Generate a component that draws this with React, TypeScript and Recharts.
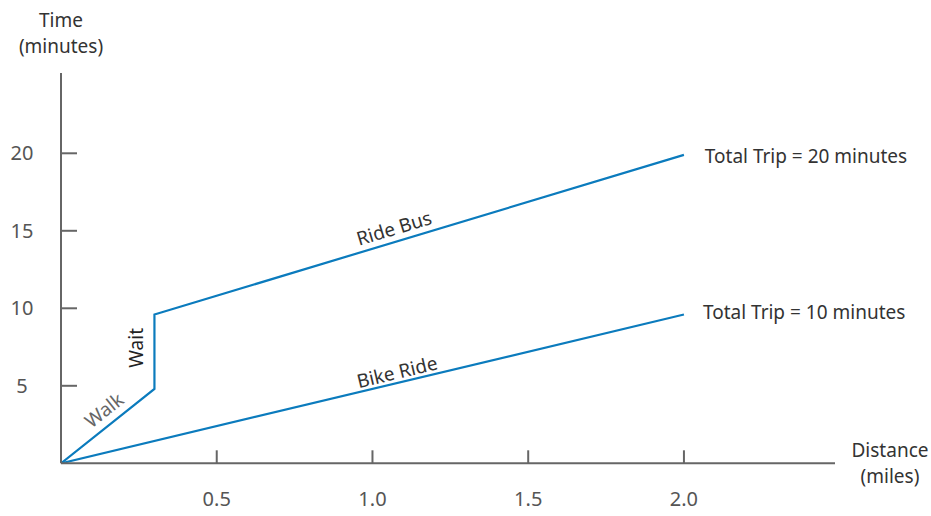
import React from 'react';
import { LineChart, Line, XAxis, YAxis, ReferenceDot } from 'recharts';

const busDistance = [0, 0.3, 0.3, 2.0];
const busTime = [0, 4.8, 9.6, 19.9];
const bikeDistance = [0, 2.0];
const bikeTime = [0, 9.6];
const xTicks = [0.5, 1.0, 1.5, 2.0];
const yTicks = [5, 10, 15, 20];
const labelTexts = ['Walk', 'Wait', 'Ride Bus', 'Bike Ride', 'Total Trip = 20 minutes', 'Total Trip = 10 minutes'];
const labelX = [0.138, 0.241, 1.069, 1.079, 2.067, 2.061];
const labelY = [3.44, 7.45, 15.18, 5.9, 19.83, 9.76];
const labelAngle = [-38.5, -90, -16.8, -13.4, 0, 0];
const labelColor = ['#666', '#222', '#333', '#333', '#333', '#333'];

const FONT = "'Noto Sans', sans-serif";
const AXIS = '#666';
const BLUE = '#0b7bbd';

const busData = busDistance.map((x, i) => ({ x, y: busTime[i] }));
const bikeData = bikeDistance.map((x, i) => ({ x, y: bikeTime[i] }));

const XTick = (p: any) => (
  <g>
    <line x1={p.x} y1={p.y} x2={p.x} y2={p.y - 13} stroke={AXIS} strokeWidth={2} />
    <text x={p.x} y={p.y + 43} textAnchor="middle" fill="#555" fontSize={20} fontFamily={FONT}>
      {Number(p.payload.value).toFixed(1)}
    </text>
  </g>
);

const YTick = (p: any) => (
  <g>
    <line x1={p.x} y1={p.y} x2={p.x + 16} y2={p.y} stroke={AXIS} strokeWidth={2} />
    <text x={p.x - 39} y={p.y + 7} textAnchor="middle" fill="#555" fontSize={20} fontFamily={FONT}>
      {p.payload.value}
    </text>
  </g>
);

const YTitle = (p: any) => {
  const vb = p.viewBox;
  const cx = vb.x + vb.width;
  return (
    <text x={cx} y={vb.y - 46} textAnchor="middle" fill="#333" fontSize={19} fontFamily={FONT}>
      <tspan x={cx} dy={0}>Time</tspan>
      <tspan x={cx} dy={26}>(minutes)</tspan>
    </text>
  );
};

const XTitle = (p: any) => {
  const vb = p.viewBox;
  const cx = vb.x + vb.width + 55;
  return (
    <text x={cx} y={vb.y - 6} textAnchor="middle" fill="#333" fontSize={19} fontFamily={FONT}>
      <tspan x={cx} dy={0}>Distance</tspan>
      <tspan x={cx} dy={26}>(miles)</tspan>
    </text>
  );
};

export default function App() {
  return (
    <div style={{ position: 'absolute', left: 0, top: 0, width: 931, height: 516, background: '#fff' }}>
      <LineChart width={931} height={516} margin={{ top: 73, right: 96, bottom: 0, left: 0 }}>
        <XAxis
          type="number"
          dataKey="x"
          domain={[0, 2.485]}
          ticks={xTicks}
          allowDataOverflow
          height={52.7}
          tickSize={0}
          tickMargin={0}
          tickLine={false}
          tick={<XTick />}
          axisLine={{ stroke: AXIS, strokeWidth: 2 }}
          label={{ content: <XTitle /> }}
        />
        <YAxis
          type="number"
          dataKey="y"
          domain={[0, 25.18]}
          ticks={yTicks}
          allowDataOverflow
          width={61}
          tickSize={0}
          tickMargin={0}
          tickLine={false}
          tick={<YTick />}
          axisLine={{ stroke: AXIS, strokeWidth: 2 }}
          label={{ content: <YTitle /> }}
        />
        <Line data={busData} dataKey="y" type="linear" stroke={BLUE} strokeWidth={2.2} dot={false} isAnimationActive={false} />
        <Line data={bikeData} dataKey="y" type="linear" stroke={BLUE} strokeWidth={2.2} dot={false} isAnimationActive={false} />
        {labelTexts.map((t, i) => (
          <ReferenceDot
            key={t}
            x={labelX[i]}
            y={labelY[i]}
            r={0}
            ifOverflow="visible"
            shape={(p: any) => (
              <text
                x={p.cx}
                y={p.cy}
                textAnchor={labelAngle[i] === 0 ? 'start' : 'middle'}
                dominantBaseline="central"
                transform={`rotate(${labelAngle[i]}, ${p.cx}, ${p.cy})`}
                fill={labelColor[i]}
                fontSize={19}
                fontFamily={FONT}
              >
                {t}
              </text>
            )}
          />
        ))}
      </LineChart>
    </div>
  );
}
